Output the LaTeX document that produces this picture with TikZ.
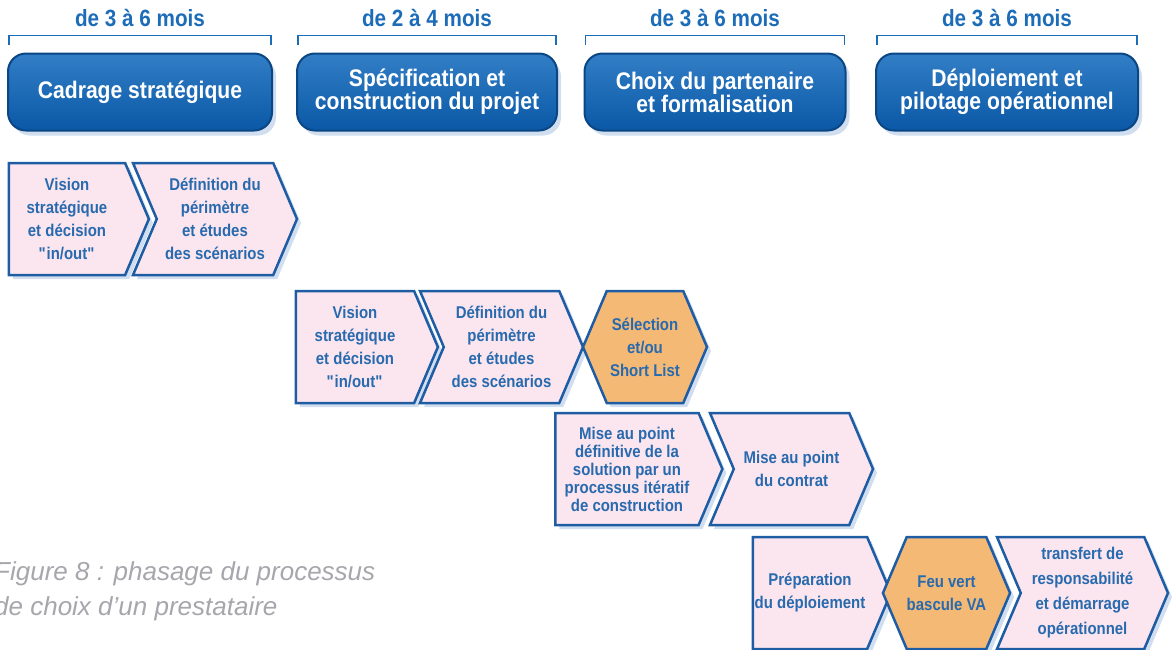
\documentclass[tikz,border=0pt]{standalone}
\usepackage{fontspec}
\setmainfont[FakeStretch=0.88]{Liberation Sans}
\newfontfamily\legendefont{Liberation Sans}
\usetikzlibrary{shapes.symbols,shadows,positioning}
\definecolor{cBleu}{RGB}{28,108,184}
\definecolor{cTrait}{RGB}{30,92,163}
\definecolor{cTexte}{RGB}{40,106,174}
\definecolor{cRose}{RGB}{251,229,239}
\definecolor{cOrange}{RGB}{245,185,118}
\definecolor{cOmbre}{RGB}{196,214,236}
\definecolor{cHaut}{RGB}{50,126,198}
\definecolor{cBas}{RGB}{10,88,166}
\definecolor{cBord}{RGB}{11,70,132}
\definecolor{cGris}{RGB}{166,166,172}
\tikzset{phase/.style={
  rectangle,
  rounded corners=18pt,
  draw=cBord,
  line width=2pt,
  top color=cHaut,
  bottom color=cBas,
  minimum height=77pt,
  inner sep=0pt,
  align=center,
  text=white,
  font=\bfseries\fontsize{24}{23}\selectfont,
  drop shadow={shadow xshift=4pt, shadow yshift=-5pt, fill=cOmbre, opacity=0.8},
  }
}
\tikzset{duree/.style={
  inner sep=0pt,
  text=cBleu,
  font=\bfseries\fontsize{23.5}{26}\selectfont,
  }
}
\tikzset{crochet/.style={
  draw=cBleu,
  line width=1.5pt,
  }
}
\tikzset{etape/.style={
  signal,
  signal to=east,
  signal pointer angle=134,
  draw=cTrait,
  line width=2.5pt,
  fill=cRose,
  minimum height=112pt,
  inner sep=0pt,
  align=center,
  text=cTexte,
  font=\bfseries\fontsize{17}{23}\selectfont,
  drop shadow={shadow xshift=4pt, shadow yshift=-4pt, fill=cOmbre, opacity=0.8},
  }
}
\tikzset{etape2/.style={
  etape,
  signal from=west,
  }
}
\tikzset{jalon/.style={
  etape,
  signal to=west and east,
  fill=cOrange,
  }
}
\tikzset{legende/.style={
  inner sep=0pt,
  align=left,
  text=cGris,
  font=\legendefont\itshape\fontsize{26}{35}\selectfont,
  }
}

\begin{document}
\begin{tikzpicture}[x=1pt,y=-1pt]
  \useasboundingbox (0,0) rectangle (1172,649);

  \node[phase, minimum width=264pt] (c1) at (140,92)  {Cadrage stratégique};
  \node[phase, minimum width=260pt] (c2) at (427,92)  {Spécification et\\construction du projet};
  \node[phase, minimum width=261pt] (c3) at (715,92)  {Choix du partenaire\\et formalisation};
  \node[phase, minimum width=262pt] (c4) at (1007,92) {Déploiement et\\pilotage opérationnel};

  \node[duree, above=26pt of c1] (d1) {de 3 à 6 mois};
  \node[duree, above=26pt of c2] (d2) {de 2 à 4 mois};
  \node[duree, above=26pt of c3] (d3) {de 3 à 6 mois};
  \node[duree, above=26pt of c4] (d4) {de 3 à 6 mois};

  \draw[crochet] ([shift={(2pt,8pt)}]c1.north west) |- ([shift={(-2pt,17pt)}]c1.north east) -- ++(0pt,-9pt);
  \draw[crochet] ([shift={(2pt,8pt)}]c2.north west) |- ([shift={(-2pt,17pt)}]c2.north east) -- ++(0pt,-9pt);
  \draw[crochet] ([shift={(2pt,8pt)}]c3.north west) |- ([shift={(-2pt,17pt)}]c3.north east) -- ++(0pt,-9pt);
  \draw[crochet] ([shift={(2pt,8pt)}]c4.north west) |- ([shift={(-2pt,17pt)}]c4.north east) -- ++(0pt,-9pt);

  \node[etape, minimum width=140pt]  (vision1)    at (67,219)    {Vision\\stratégique\\et décision\\\textquotedbl in/out\textquotedbl};
  \node[etape2, minimum width=164pt] (perimetre1) at (215,219)   {Définition du\\périmètre\\et études\\des scénarios};

  \node[etape, minimum width=142pt]  (vision2)    at (355,347)   {Vision\\stratégique\\et décision\\\textquotedbl in/out\textquotedbl};
  \node[etape2, minimum width=163pt] (perimetre2) at (501.5,347) {Définition du\\périmètre\\et études\\des scénarios};
  \node[jalon, minimum width=124pt]  (selection)  at (645,347)   {Sélection\\et/ou\\Short List};

  \node[etape, minimum width=167pt, font=\bfseries\fontsize{17}{18}\selectfont] (miseaupoint) at (627,469) {Mise au point\\définitive de la\\solution par un\\processus itératif\\de construction};
  \node[etape2, minimum width=163pt] (contrat)    at (791.5,469) {Mise au point\\du contrat};

  \node[etape, minimum width=138pt]  (preparation) at (810,593)   {Préparation\\du déploiement};
  \node[jalon, minimum width=113pt]  (feuvert)     at (946.5,593) {Feu vert\\bascule VA};
  \node[etape2, minimum width=171pt, font=\bfseries\fontsize{17}{25}\selectfont] (transfert) at (1082.5,593) {transfert de\\responsabilité\\et démarrage\\opérationnel};

  \node[legende, anchor=base west] (legende) at (-6,615) {Figure 8 : phasage du processus\\de choix d’un prestataire};
\end{tikzpicture}
\end{document}
